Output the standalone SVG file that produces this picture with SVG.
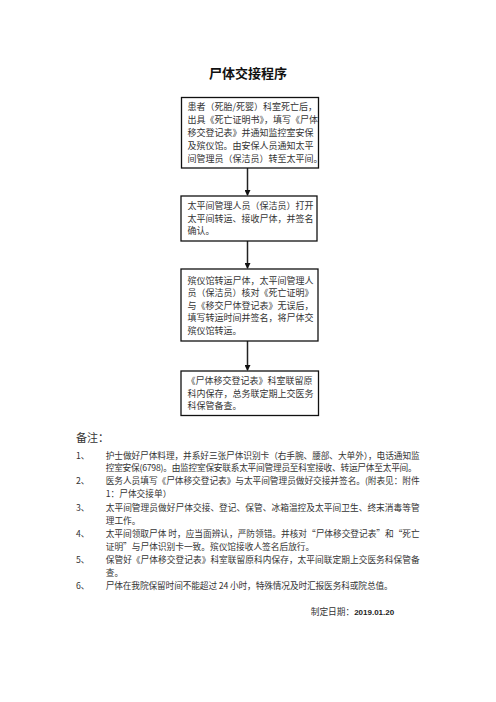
<svg xmlns="http://www.w3.org/2000/svg" width="496" height="702" viewBox="0 0 496 702">
<defs>
<marker id="ah" markerWidth="6" markerHeight="6" refX="5" refY="3" orient="auto" markerUnits="userSpaceOnUse">
<path d="M0,0 L6,3 L0,6 Z" fill="#111"/>
</marker>
<style>
.box{fill:#fff;stroke:#111;stroke-width:1.3}
.bt{font-family:"Noto Sans CJK SC","Liberation Serif",sans-serif;font-size:9px;fill:#333}
.nt{font-family:"Noto Sans CJK SC","Liberation Serif",sans-serif;font-size:8.7px;fill:#333}
.title{font-family:"Noto Sans CJK SC",sans-serif;font-size:13px;font-weight:bold;fill:#111}
.conn{stroke:#222;stroke-width:1.5;fill:none}
</style>
</defs>
<rect width="496" height="702" fill="#fff"/>
<text class="title" x="248" y="77.5" text-anchor="middle">尸体交接程序</text>

<g id="connectors">
<line class="conn" x1="247.5" y1="168" x2="247.5" y2="195" marker-end="url(#ah)"/>
<line class="conn" x1="247.5" y1="241" x2="247.5" y2="268" marker-end="url(#ah)"/>
<line class="conn" x1="247.5" y1="341" x2="247.5" y2="370" marker-end="url(#ah)"/>
</g>

<g id="node1">
<rect class="box" x="181.5" y="97.5" width="137" height="70.5"/>
<text class="bt" x="187.5" y="109.5">患者（死胎/死婴）科室死亡后，</text>
<text class="bt" x="187.5" y="122.5">出具《死亡证明书》，填写《尸体</text>
<text class="bt" x="187.5" y="135.5">移交登记表》并通知监控室安保</text>
<text class="bt" x="187.5" y="148.5">及殡仪馆。由安保人员通知太平</text>
<text class="bt" x="187.5" y="161.5">间管理员（保洁员）转至太平间。</text>
</g>

<g id="node2">
<rect class="box" x="181" y="196" width="136" height="45"/>
<text class="bt" x="187.5" y="208.5">太平间管理人员（保洁员）打开</text>
<text class="bt" x="187.5" y="221.5">太平间转运、接收尸体，并签名</text>
<text class="bt" x="187.5" y="234">确认。</text>
</g>

<g id="node3">
<rect class="box" x="181" y="269" width="137" height="72"/>
<text class="bt" x="187.5" y="283.5">殡仪馆转运尸体，太平间管理人</text>
<text class="bt" x="187.5" y="296">员（保洁员）核对《死亡证明》</text>
<text class="bt" x="187.5" y="308.5">与《移交尸体登记表》无误后，</text>
<text class="bt" x="187.5" y="321">填写转运时间并签名，将尸体交</text>
<text class="bt" x="187.5" y="333.5">殡仪馆转运。</text>
</g>

<g id="node4">
<rect class="box" x="181" y="371" width="137.5" height="44.5"/>
<text class="bt" x="186.5" y="383.5">《尸体移交登记表》科室联留原</text>
<text class="bt" x="187.5" y="396.5">科内保存，总务联定期上交医务</text>
<text class="bt" x="187.5" y="409">科保管备查。</text>
</g>

<g id="notes">
<text class="nt" x="76" y="441.5" style="font-size:11px">备注：</text>
<text class="nt" x="76" y="458.5">1、</text>
<text class="nt" x="105.7" y="458.5" textLength="314" lengthAdjust="spacing">护士做好尸体料理，并系好三张尸体识别卡（右手腕、腰部、大单外），电话通知监</text>
<text class="nt" x="105.7" y="471.2" textLength="311" lengthAdjust="spacing">控室安保(6798)。由监控室保安联系太平间管理员至科室接收、转运尸体至太平间。</text>
<text class="nt" x="76" y="483.9">2、</text>
<text class="nt" x="105.7" y="483.9" textLength="314" lengthAdjust="spacing">医务人员填写《尸体移交登记表》与太平间管理员做好交接并签名。(附表见：附件</text>
<text class="nt" x="105.7" y="497.3">1：尸体交接单）</text>
<text class="nt" x="76" y="511">3、</text>
<text class="nt" x="105.7" y="511" textLength="314" lengthAdjust="spacing">太平间管理员做好尸体交接、登记、保管、冰箱温控及太平间卫生、终末消毒等管</text>
<text class="nt" x="105.7" y="524">理工作。</text>
<text class="nt" x="76" y="536.8">4、</text>
<text class="nt" x="105.7" y="536.8" textLength="314" lengthAdjust="spacing">太平间领取尸体 时，应当面辨认，严防领错。并核对“尸体移交登记表”和“死亡</text>
<text class="nt" x="105.7" y="550">证明”与尸体识别卡一致。殡仪馆接收人签名后放行。</text>
<text class="nt" x="76" y="563.3">5、</text>
<text class="nt" x="105.7" y="563.3" textLength="314" lengthAdjust="spacing">保管好《尸体移交登记表》科室联留原科内保存，太平间联定期上交医务科保管备</text>
<text class="nt" x="105.7" y="576.2">查。</text>
<text class="nt" x="76" y="589.3">6、</text>
<text class="nt" x="105.7" y="589.3" textLength="287" lengthAdjust="spacing">尸体在我院保留时间不能超过 24 小时，特殊情况及时汇报医务科或院总值。</text>
<text class="nt" x="310.7" y="615">制定日期：<tspan style="font-family:'Liberation Sans',sans-serif;font-size:8px;font-weight:bold;fill:#222">2019.01.20</tspan></text>
</g>
</svg>
